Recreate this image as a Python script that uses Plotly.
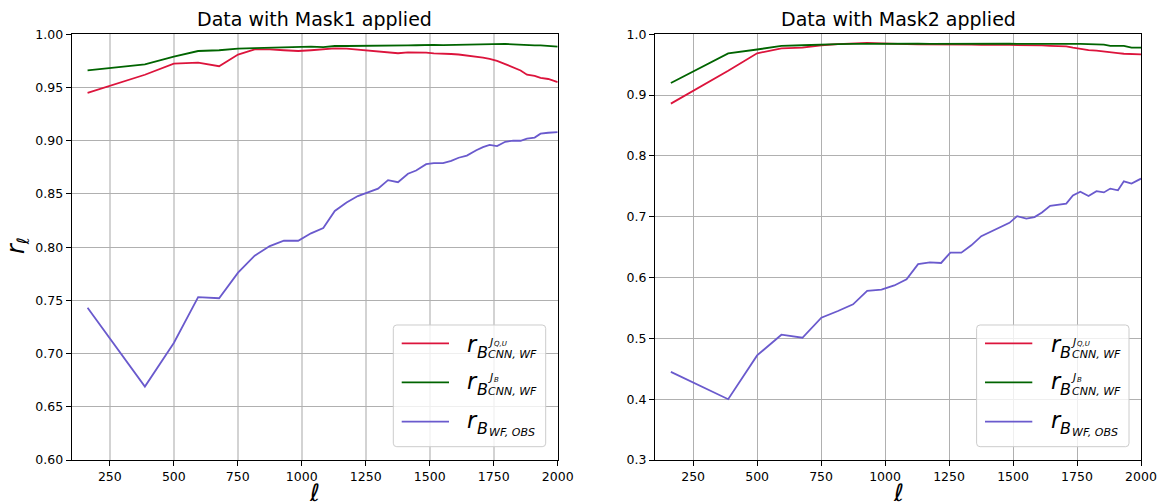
import plotly.graph_objects as go

# ---- data -------------------------------------------------------------
ell = [163, 387, 500, 595, 677, 751, 816, 875, 930, 986, 1036, 1084, 1129,
       1175, 1219, 1255, 1298, 1337, 1376, 1415, 1447, 1486, 1516, 1552,
       1584, 1613, 1645, 1682, 1708, 1734, 1763, 1795, 1826, 1855, 1880,
       1910, 1933, 1963, 2000]

# Mask1
m1_cnn_qu = [0.945, 0.962, 0.9724, 0.9733, 0.970, 0.981, 0.9859, 0.9858, 0.985,
             0.9843, 0.985, 0.9859, 0.9868, 0.9865, 0.9855, 0.9843, 0.9835,
             0.983, 0.9822, 0.983, 0.983, 0.9828, 0.982, 0.982, 0.9815, 0.981,
             0.980, 0.9795, 0.978, 0.977, 0.975, 0.972, 0.969, 0.966, 0.962,
             0.961, 0.959, 0.958, 0.955]
m1_cnn_b = [0.966, 0.9718, 0.979, 0.9843, 0.985, 0.9865, 0.987, 0.9875, 0.988,
            0.9887, 0.9885, 0.988, 0.989, 0.989, 0.989, 0.9888, 0.989, 0.9892,
            0.9893, 0.9895, 0.9897, 0.990, 0.990, 0.9898, 0.990, 0.9902, 0.990,
            0.9903, 0.9905, 0.991, 0.9905, 0.991, 0.9905, 0.990, 0.9898,
            0.9895, 0.9895, 0.989, 0.9885]
m1_wf_obs = [0.743, 0.669, 0.710, 0.753, 0.752, 0.776, 0.792, 0.801, 0.806,
             0.806, 0.813, 0.818, 0.834, 0.842, 0.848, 0.851, 0.855, 0.863,
             0.861, 0.869, 0.872, 0.878, 0.879, 0.879, 0.881, 0.884, 0.886,
             0.891, 0.894, 0.896, 0.895, 0.899, 0.900, 0.900, 0.902, 0.903,
             0.9066, 0.9075, 0.908]

# Mask2
m2_cnn_qu = [0.886, 0.940, 0.9687, 0.977, 0.978, 0.982, 0.984, 0.985, 0.986,
             0.985, 0.984, 0.9838, 0.9835, 0.9835, 0.9838, 0.983, 0.983, 0.983,
             0.9825, 0.983, 0.9828, 0.9825, 0.9825, 0.9823, 0.982, 0.9818,
             0.981, 0.9805, 0.980, 0.978, 0.976, 0.974, 0.973, 0.972, 0.970,
             0.969, 0.968, 0.968, 0.967]
m2_cnn_b = [0.920, 0.9687, 0.975, 0.981, 0.982, 0.9835, 0.984, 0.9842, 0.9845,
            0.9845, 0.9845, 0.9843, 0.9845, 0.9843, 0.9845, 0.9842, 0.9843,
            0.9845, 0.9843, 0.9842, 0.9845, 0.9845, 0.9843, 0.9845, 0.9843,
            0.9845, 0.9847, 0.9845, 0.9845, 0.9843, 0.9842, 0.9835, 0.9835,
            0.983, 0.981, 0.981, 0.981, 0.978, 0.978]
m2_wf_obs = [0.445, 0.400, 0.472, 0.506, 0.501, 0.534, 0.545, 0.556, 0.578,
             0.580, 0.587, 0.597, 0.622, 0.625, 0.624, 0.641, 0.641, 0.653,
             0.668, 0.676, 0.683, 0.690, 0.701, 0.697, 0.6995, 0.707, 0.718,
             0.720, 0.7216, 0.735, 0.741, 0.734, 0.742, 0.740, 0.7463, 0.7435,
             0.7583, 0.7545, 0.7627]

x_ticks = [250, 500, 750, 1000, 1250, 1500, 1750, 2000]
titles = ["Data with Mask1 applied", "Data with Mask2 applied"]

RED, GREEN, PURPLE = "#dc143c", "#006400", "#6a5acd"

# ---- page geometry (pixels) ------------------------------------------
W, H = 1166, 502
FONT = "DejaVu Sans"
DESC = 0.236  # font descent as a fraction of size


def px(x):
    return x / W


def py(y):
    return 1 - y / H


AX_TOP, AX_BOT = 34.3, 460.0
AX_L = [(71.7, 557.7), (655.0, 1141.0)]

fig = go.Figure()

panels = [
    ("x", "y", [m1_cnn_qu, m1_cnn_b, m1_wf_obs]),
    ("x2", "y2", [m2_cnn_qu, m2_cnn_b, m2_wf_obs]),
]
for xa, ya, series in panels:
    for vals, col in zip(series, [RED, GREEN, PURPLE]):
        fig.add_trace(go.Scatter(x=ell, y=vals, mode="lines", xaxis=xa, yaxis=ya,
                                 line=dict(color=col, width=1.8),
                                 showlegend=False, hoverinfo="skip"))

common_axis = dict(showline=True, linecolor="black", linewidth=1, mirror=True,
                   ticks="outside", ticklen=5, tickwidth=1, tickcolor="black",
                   tickfont=dict(family=FONT, size=12.5, color="black"),
                   zeroline=False, showgrid=True, automargin=False)

fig.update_layout(
    width=W, height=H,
    margin=dict(l=0, r=0, t=0, b=0, pad=0, autoexpand=False),
    paper_bgcolor="white", plot_bgcolor="white",
    xaxis=dict(domain=[px(AX_L[0][0]), px(AX_L[0][1])], range=[101, 2000.01],
               tickvals=x_ticks, gridcolor="#d3d3d3", gridwidth=1.6,
               anchor="y", **common_axis),
    yaxis=dict(domain=[py(AX_BOT), py(AX_TOP)], range=[0.6, 1.0 + 1e-9],
               dtick=0.05, tick0=0.6, tickformat=".2f", gridcolor="#b0b0b0",
               gridwidth=1, anchor="x", **common_axis),
    xaxis2=dict(domain=[px(AX_L[1][0]), px(AX_L[1][1])], range=[101, 2000.01],
                tickvals=x_ticks, gridcolor="#b0b0b0", gridwidth=1,
                anchor="y2", **common_axis),
    yaxis2=dict(domain=[py(AX_BOT), py(AX_TOP)], range=[0.3, 1.0 + 1e-9],
                dtick=0.1, tick0=0.3, tickformat=".1f", gridcolor="#b0b0b0",
                gridwidth=1, anchor="x2", **common_axis),
)

annotations = []
shapes = []


def txt(s, x_px, base_px, size, italic=True, anchor="left"):
    annotations.append(dict(
        text=s, x=px(x_px), y=py(base_px + DESC * size), xref="paper",
        yref="paper", xanchor=anchor, yanchor="bottom", showarrow=False,
        borderpad=0,
        font=dict(family=FONT, size=size, color="black",
                  style="italic" if italic else "normal")))


# titles and axis labels
for (l, r), t in zip(AX_L, titles):
    cx = (l + r) / 2
    txt(t, cx, 26.7, 19, italic=False, anchor="center")
    txt("ℓ", cx, 502.5, 24, anchor="center")

annotations.append(dict(
    text="<i>r</i><sub><i>ℓ</i></sub>", x=px(17), y=py(246), xref="paper",
    yref="paper", xanchor="center", yanchor="middle", showarrow=False,
    textangle=-90, font=dict(family=FONT, size=24, color="black")))


# legend boxes drawn with shapes and text pieces
def rounded_rect(x0, y0, x1, y1, r):
    X = lambda v: f"{px(v):.6f}"
    Y = lambda v: f"{py(v):.6f}"
    return (f"M {X(x0 + r)} {Y(y0)} L {X(x1 - r)} {Y(y0)} "
            f"Q {X(x1)} {Y(y0)} {X(x1)} {Y(y0 + r)} L {X(x1)} {Y(y1 - r)} "
            f"Q {X(x1)} {Y(y1)} {X(x1 - r)} {Y(y1)} L {X(x0 + r)} {Y(y1)} "
            f"Q {X(x0)} {Y(y1)} {X(x0)} {Y(y1 - r)} L {X(x0)} {Y(y0 + r)} "
            f"Q {X(x0)} {Y(y0)} {X(x0 + r)} {Y(y0)} Z")


def legend(bx, by):
    shapes.append(dict(type="path", xref="paper", yref="paper",
                       path=rounded_rect(bx, by, bx + 152.4, by + 121.7, 3.5),
                       fillcolor="rgba(255,255,255,0.8)",
                       line=dict(color="#cccccc", width=1), layer="above"))
    rows = [by + 18.3, by + 57.3, by + 96.7]
    for ly, col in zip(rows, [RED, GREEN, PURPLE]):
        shapes.append(dict(type="line", xref="paper", yref="paper",
                           x0=px(bx + 8.4), x1=px(bx + 55.7), y0=py(ly), y1=py(ly),
                           line=dict(color=col, width=1.8), layer="above"))
    # row 1: r_{B^{J_{Q,U}}_{CNN,WF}}
    ly = rows[0]
    txt("r", bx + 73, ly + 9.4, 22.5)
    txt("B", bx + 82.5, ly + 15.7, 16)
    txt("J", bx + 93.5, ly + 4.5, 11)
    txt("Q,U", bx + 99.5, ly + 3.6, 7)
    txt("CNN, WF", bx + 94.0, ly + 16.0, 11)
    # row 2: r_{B^{J_B}_{CNN,WF}}
    ly = rows[1]
    txt("r", bx + 73, ly + 7.7, 22.5)
    txt("B", bx + 82.5, ly + 14.4, 16)
    txt("J", bx + 93.5, ly + 0.5, 11)
    txt("B", bx + 99.5, ly + 1.5, 7)
    txt("CNN, WF", bx + 94.0, ly + 14.6, 11)
    # row 3: r_{B_{WF,OBS}}
    ly = rows[2]
    txt("r", bx + 73, ly + 6.6, 22.5)
    txt("B", bx + 82.5, ly + 13.3, 16)
    txt("WF, OBS", bx + 94.5, ly + 15.5, 11)


legend(393.3, 325.0)
legend(976.6, 325.0)

fig.update_layout(annotations=annotations, shapes=shapes)
fig.write_html("out.html")
